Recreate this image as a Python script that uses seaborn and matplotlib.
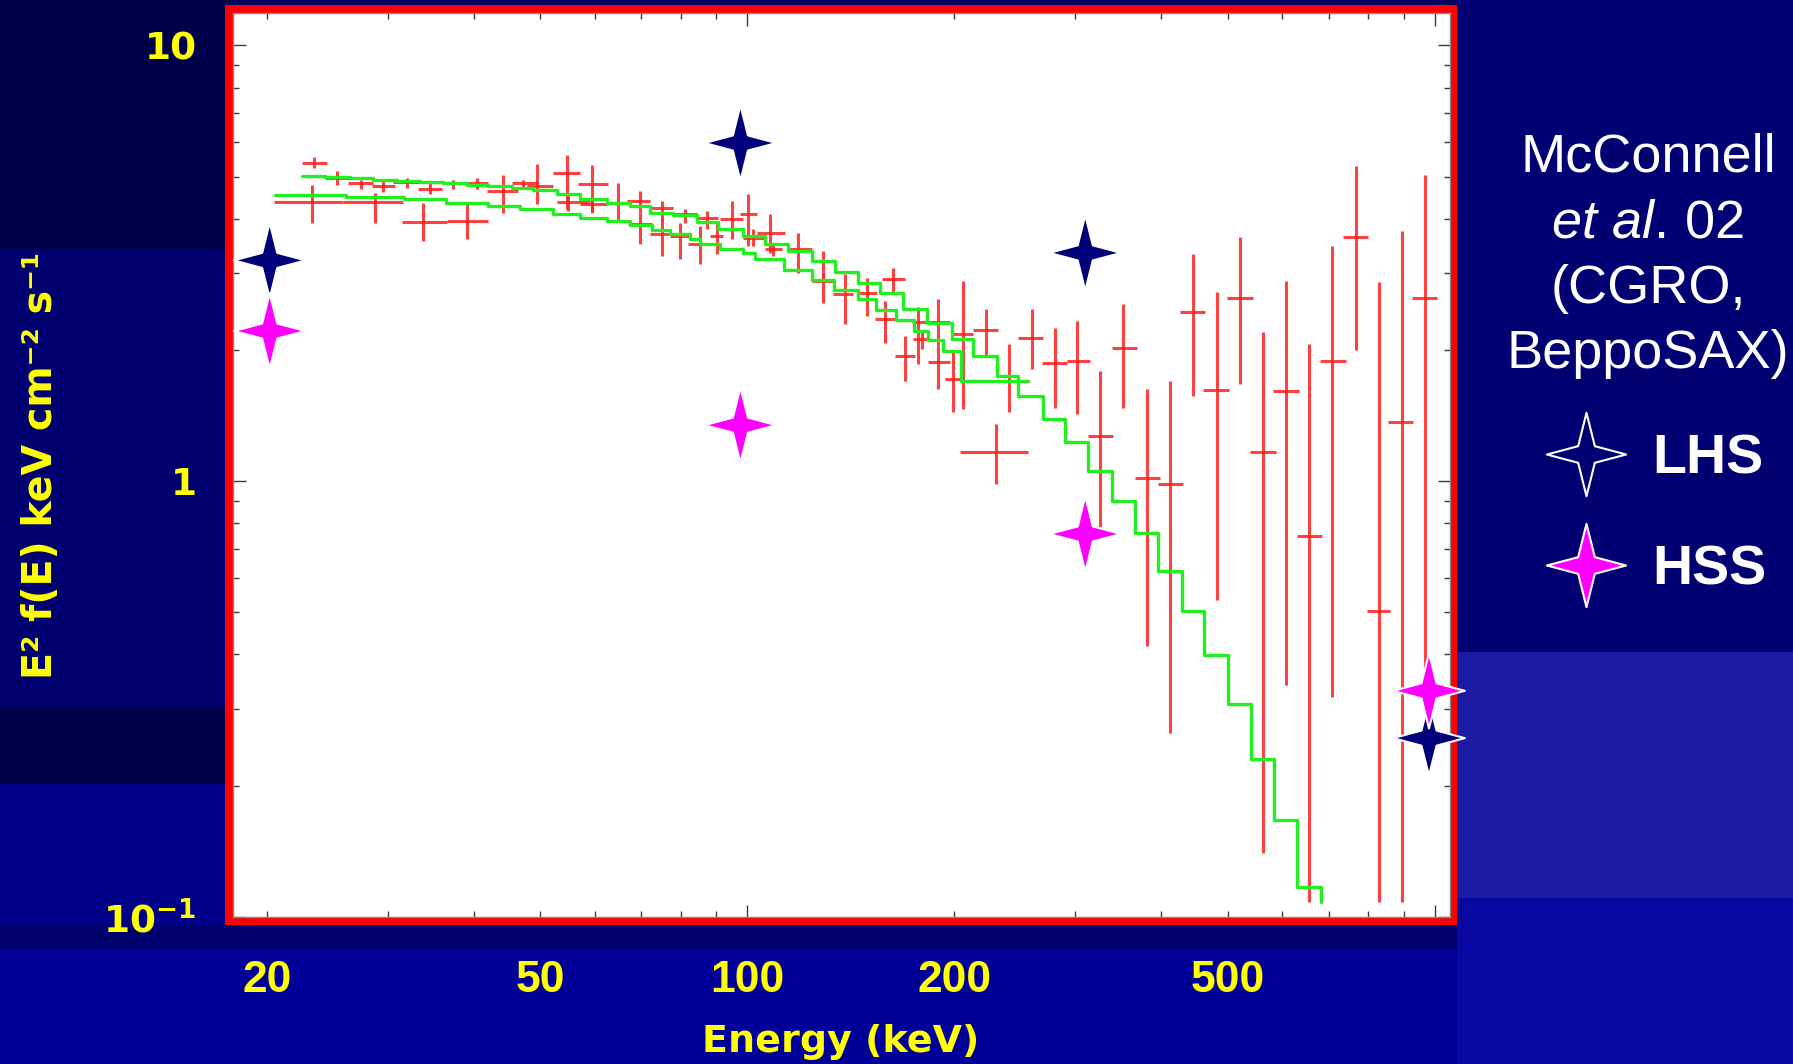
import numpy as np
import pandas as pd
import matplotlib
matplotlib.use("Agg")
import matplotlib.pyplot as plt
import seaborn as sns
from matplotlib.path import Path
from matplotlib.patches import Rectangle
from matplotlib.lines import Line2D
from matplotlib.ticker import LogLocator, NullFormatter

# ---------------- data ----------------
# measured spectrum: bin centre, bin edges, flux and flux error range
energy = np.array([23.43, 23.25, 28.74, 25.33, 27.40, 29.55, 31.96, 34.56, 37.36, 40.41,
                   33.79, 39.07, 44.17, 47.22, 49.39, 54.61, 54.90, 59.37, 59.37, 64.92,
                   69.81, 69.81, 75.07, 75.07, 79.81, 81.16, 85.34, 87.27, 90.24, 94.88,
                   100.3, 102.0, 107.9, 109.1, 118.6, 128.9, 128.9, 138.7, 149.1, 163.0,
                   158.5, 177.0, 179.2, 189.5, 189.5, 169.5, 205.6, 222.3, 199.3, 229.9,
                   240.4, 259.0, 280.2, 301.8, 325.6, 352.0, 380.7, 411.7, 445.0, 481.3,
                   520.3, 562.6, 607.1, 656.3, 708.8, 767.4, 828.9, 894.3, 966.9])
energy_lo = np.array([22.49, 20.52, 25.82, 24.31, 26.28, 28.43, 30.56, 33.22, 35.94, 39.07,
                      31.43, 36.55, 41.78, 45.42, 47.76, 52.22, 52.82, 56.76, 57.09, 62.44,
                      66.77, 67.13, 72.19, 72.19, 77.19, 78.05, 82.06, 84.40, 88.24, 91.24,
                      97.55, 98.63, 103.2, 106.1, 114.7, 124.0, 124.0, 133.3, 144.2, 156.8,
                      153.3, 173.4, 174.3, 183.3, 183.3, 163.9, 199.3, 213.1, 193.8, 203.8,
                      235.3, 247.8, 267.9, 291.3, 313.2, 338.7, 366.2, 395.9, 425.7, 460.2,
                      497.7, 538.1, 581.9, 629.2, 680.2, 735.4, 795.5, 855.1, 924.7])
energy_hi = np.array([24.45, 25.82, 31.60, 26.43, 28.58, 30.73, 33.42, 35.94, 38.85, 42.00,
                      36.55, 42.00, 46.44, 49.39, 52.22, 57.09, 59.03, 62.78, 62.44, 67.13,
                      72.19, 72.60, 78.05, 78.05, 82.53, 84.40, 87.74, 90.72, 92.25, 98.63,
                      103.2, 106.1, 113.4, 112.2, 124.0, 134.1, 133.6, 142.6, 154.2, 169.5,
                      163.9, 183.3, 184.3, 197.1, 197.1, 175.3, 213.1, 231.7, 204.9, 256.1,
                      245.8, 269.3, 291.3, 315.0, 340.4, 368.2, 398.1, 430.4, 462.8, 502.1,
                      543.0, 586.5, 634.7, 684.1, 741.3, 799.7, 860.0, 929.6, 1005.4])
flux = np.array([5.376, 4.376, 4.376, 4.967, 4.820, 4.751, 4.853, 4.687, 4.820, 4.838,
                 3.930, 3.951, 4.628, 4.820, 4.751, 5.100, 4.367, 4.812, 4.314, 4.353,
                 4.390, 3.882, 4.240, 3.683, 3.650, 4.093, 3.494, 4.022, 3.650, 3.986,
                 4.093, 3.619, 3.716, 3.402, 3.402, 3.199, 2.878, 2.683, 2.707, 2.904,
                 2.351, 2.314, 2.116, 2.318, 1.877, 1.937, 2.172, 2.223, 1.713, 1.167,
                 1.698, 2.135, 1.871, 1.887, 1.270, 2.025, 1.016, 0.984, 2.444, 1.619,
                 2.637, 1.167, 1.606, 0.749, 1.887, 3.637, 0.504, 1.368, 2.637])
flux_lo = np.array([5.236, 3.917, 3.917, 4.794, 4.687, 4.604, 4.712, 4.548, 4.687, 4.687,
                    3.555, 3.587, 4.130, 4.712, 4.314, 4.202, 4.165, 4.165, 4.130, 3.951,
                    4.130, 3.494, 3.951, 3.284, 3.228, 3.917, 3.144, 3.782, 3.314, 3.587,
                    3.462, 3.462, 3.344, 3.284, 3.009, 2.904, 2.568, 2.290, 2.393, 2.707,
                    2.079, 1.854, 2.007, 2.043, 1.625, 1.698, 1.462, 1.937, 1.437, 0.984,
                    1.437, 1.806, 1.475, 1.424, 0.783, 1.475, 0.418, 0.264, 1.569, 0.532,
                    1.669, 0.140, 0.341, 0.108, 0.319, 1.996, 0.108, 0.108, 0.334])
flux_hi = np.array([5.549, 4.794, 4.589, 5.143, 4.922, 4.880, 4.967, 4.838, 4.922, 4.967,
                    4.353, 4.353, 5.054, 4.922, 5.356, 5.617, 4.548, 5.328, 4.429, 4.838,
                    4.628, 4.130, 4.390, 3.986, 3.917, 4.202, 3.848, 4.165, 3.951, 4.390,
                    4.548, 3.782, 4.093, 3.525, 3.716, 3.373, 3.009, 2.982, 2.930, 3.090,
                    2.590, 2.505, 2.207, 2.613, 2.043, 2.153, 2.878, 2.479, 1.973, 1.351,
                    2.061, 2.479, 2.251, 2.330, 1.790, 2.545, 1.625, 1.698, 3.314, 2.712,
                    3.637, 2.196, 2.878, 2.061, 3.462, 5.281, 2.858, 3.748, 5.054])

# model histograms (bin left edges and levels, drawn as steps)
model_a_energy = [22.49, 24.31, 26.43, 28.58, 30.91, 33.42, 36.14, 39.07, 42.00, 45.42,
                  48.83, 52.82, 57.09, 62.44, 67.52, 72.19, 78.05, 84.40, 90.72, 98.63,
                  106.07, 114.68, 124.04, 134.09, 144.97, 155.90, 168.57, 182.28, 198.20, 213.06,
                  230.46, 247.76, 268.86, 289.66, 313.16, 338.68, 366.16, 395.94, 428.20, 461.80,
                  500.38, 540.06, 583.18, 630.48, 681.86]
model_a_flux = [5.027, 4.993, 4.956, 4.922, 4.889, 4.853, 4.827, 4.794, 4.751, 4.702,
                4.652, 4.548, 4.446, 4.353, 4.276, 4.130, 4.071, 3.930, 3.796, 3.650,
                3.494, 3.373, 3.199, 3.019, 2.854, 2.698, 2.479, 2.311, 2.116, 1.937,
                1.743, 1.569, 1.387, 1.227, 1.056, 0.901, 0.760, 0.623, 0.504, 0.398,
                0.307, 0.230, 0.167, 0.117, 0.108]
model_b_energy = [20.53, 26.08, 31.64, 36.44, 41.94, 46.77, 52.17, 57.04, 62.40, 67.41,
                  72.68, 77.19, 82.53, 85.34, 91.24, 98.53, 102.57, 113.04, 124.16, 133.64,
                  144.82, 153.83, 164.49, 174.69, 183.38, 192.70, 204.47, 255.88]
model_b_flux = [4.536, 4.488, 4.429, 4.353, 4.276, 4.202, 4.108, 4.022, 3.944, 3.862,
                3.762, 3.683, 3.587, 3.494, 3.412, 3.344, 3.228, 3.054, 2.897, 2.748,
                2.613, 2.473, 2.339, 2.211, 2.110, 1.989, 1.699, 1.699]

# CGRO / BeppoSAX states
state_energy = [20.2, 97.7, 310.0, 980.0, 20.2, 97.7, 310.0, 980.0]
state_flux = [3.21, 5.97, 3.34, 0.257, 2.21, 1.344, 0.756, 0.33]
state_name = ["LHS"] * 4 + ["HSS"] * 4

x_tick_values = [20, 50, 100, 200, 500]
x_tick_labels = ["20", "50", "100", "200", "500"]
y_tick_values = [0.1, 1, 10]
y_tick_labels = [r"$\mathbf{10^{-1}}$", "1", "10"]
note_lines = ["McConnell", r"$\mathit{et\ al.}\,\mathrm{02}$", "(CGRO,", "BeppoSAX)"]

# ---------------- style ----------------
sns.set_theme(style="ticks")
plt.rcParams["font.family"] = ["DejaVu Sans"]
plt.rcParams["mathtext.fontset"] = "custom"
plt.rcParams["mathtext.rm"] = "Liberation Sans"
plt.rcParams["mathtext.it"] = "Liberation Sans:italic"
plt.rcParams["mathtext.bf"] = "DejaVu Sans:bold"

W, H = 1793, 1064
YELLOW = "#ffff00"
NAVY = "#00007a"
MAGENTA = "#ff00ff"

fig = plt.figure(figsize=(W / 100, H / 100), dpi=100)
fig.patch.set_facecolor("#000092")


def frect(x0, y0, x1, y1, color, z=-10):
    fig.add_artist(Rectangle((x0 / W, 1 - y1 / H), (x1 - x0) / W, (y1 - y0) / H,
                             transform=fig.transFigure, facecolor=color,
                             edgecolor="none", zorder=z))


# slide background blocks
frect(0, 0, 232, 249, "#00004a")
frect(0, 249, 232, 707, "#000070")
frect(0, 707, 232, 784, "#00004a")
frect(0, 784, 232, 930, "#000088")
frect(232, 0, 1457, 6, "#000060")
frect(1457, 0, W, 652, "#000072")
frect(1457, 652, W, 898, "#1a1aa3")
frect(1457, 898, W, H, "#0808a0")
frect(0, 925, 1457, 950, "#00006c")
frect(0, 950, 1457, H, "#000098")
# red frame of the pasted plot
frect(224.6, 5, 1456.6, 925, "#ff0000", z=-5)

ax = fig.add_axes([232.6 / W, 1 - 916.7 / H, (1450 - 232.6) / W, (916.7 - 13.3) / H])
ax.set_facecolor("white")
ax.set_xscale("log")
ax.set_yscale("log")
ax.set_xlim(17.84, 1051.4)
ax.set_ylim(0.1008, 11.85)

# data crosses
ax.errorbar(energy, flux,
            xerr=[energy - energy_lo, energy_hi - energy],
            yerr=[flux - flux_lo, flux_hi - flux],
            fmt="none", ecolor="#ff2020", elinewidth=2.2, alpha=0.85, capsize=0, zorder=2)

# model step histograms
sns.lineplot(x=model_a_energy, y=model_a_flux, ax=ax, color="#22ee22", linewidth=2.4,
             drawstyle="steps-post", estimator=None, sort=False, zorder=3)
sns.lineplot(x=model_b_energy, y=model_b_flux, ax=ax, color="#22ee22", linewidth=2.4,
             drawstyle="steps-post", estimator=None, sort=False, zorder=3)

# four-pointed star marker
star_verts = [(0, 1), (0.2, 0.2), (0.95, 0), (0.2, -0.2), (0, -1),
              (-0.2, -0.2), (-0.95, 0), (-0.2, 0.2), (0, 1)]
star_codes = [Path.MOVETO] + [Path.LINETO] * 7 + [Path.CLOSEPOLY]
star = Path(star_verts, star_codes)

states = pd.DataFrame({"energy": state_energy, "flux": state_flux, "state": state_name})
sns.scatterplot(data=states, x="energy", y="flux", hue="state",
                palette={"LHS": NAVY, "HSS": MAGENTA}, marker=star, s=2950,
                edgecolor="white", linewidth=1.5, legend=False, ax=ax,
                clip_on=False, zorder=5)

# ticks
ax.xaxis.set_major_locator(LogLocator(base=10, numticks=10))
ax.xaxis.set_minor_locator(LogLocator(base=10, subs=np.arange(2, 10), numticks=20))
ax.xaxis.set_major_formatter(NullFormatter())
ax.xaxis.set_minor_formatter(NullFormatter())
ax.set_yticks(y_tick_values, y_tick_labels, fontweight="bold")
ax.yaxis.set_minor_locator(LogLocator(base=10, subs=np.arange(2, 10), numticks=20))
ax.yaxis.set_minor_formatter(NullFormatter())
ax.tick_params(which="both", direction="in", top=True, right=True, bottom=True, left=True,
               color="#3a3a3a", width=1.0)
ax.tick_params(which="major", length=9)
ax.tick_params(which="minor", length=4)
ax.tick_params(axis="x", labelbottom=False)
ax.tick_params(axis="y", labelsize=27, labelcolor=YELLOW, pad=26)
for s in ax.spines.values():
    s.set_color("#888888")
    s.set_linewidth(1.0)

for v, lab in zip(x_tick_values, x_tick_labels):
    ax.text(v, -0.083, lab, transform=ax.get_xaxis_transform(), ha="center", va="baseline",
            color=YELLOW, fontsize=32, fontweight="bold", family="Liberation Sans")

ax.set_xlabel("Energy (keV)", color=YELLOW, fontsize=27.4, fontweight="bold")
ax.xaxis.set_label_coords(0.4994, -0.1494)
ax.xaxis.label.set_va("baseline")
ax.set_ylabel("E\u00b2 f(E) keV cm\u207b\u00b2 s\u207b\u00b9", color=YELLOW, fontsize=28.5,
              fontweight="bold")
ax.yaxis.label.set_va("center")
ax.yaxis.set_label_coords(-0.157, 0.5)

# reference note on the right
for line, base in zip(note_lines, [171.5, 237, 302.5, 368]):
    fig.text(1648 / W, 1 - base / H, line, ha="center", va="baseline", color="white",
             fontsize=39, family="Liberation Sans")

# legend for the two states
handles = [Line2D([], [], ls="none", marker=star, ms=60, mfc="none", mec="white", mew=1.5),
           Line2D([], [], ls="none", marker=star, ms=60, mfc=MAGENTA, mec="white", mew=1.5)]
fig.legend(handles, ["LHS", "HSS"], loc="center left", bbox_to_anchor=(1558 / W, 1 - 515 / H),
           frameon=False, prop={"family": "Liberation Sans", "weight": "bold", "size": 40},
           labelcolor="white", handlelength=1.0, handletextpad=0.69, labelspacing=1.05,
           borderpad=0, borderaxespad=0)

fig.savefig("out.png", dpi=100, facecolor=fig.get_facecolor())
